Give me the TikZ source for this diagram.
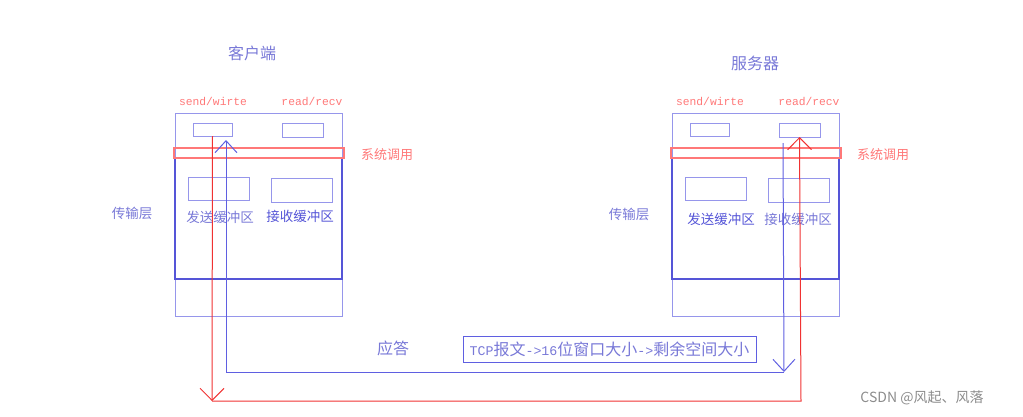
\documentclass[tikz,border=0pt]{standalone}
\usepackage{fontspec}
\usepackage{tikz}
\usetikzlibrary{arrows.meta,positioning}
\newfontfamily\cjk{Noto Sans CJK SC}
\newfontfamily\mono{Liberation Mono}

\definecolor{lblue}{RGB}{150,150,235}
\definecolor{dblue}{RGB}{85,85,215}
\definecolor{ablue}{RGB}{95,95,225}
\definecolor{tblue}{RGB}{120,120,215}
\definecolor{lred}{RGB}{255,120,120}
\definecolor{dred}{RGB}{240,50,50}

\tikzset{
  obox/.style={draw=lblue, line width=1pt, inner sep=0pt, outer sep=0pt},
  tbox/.style={draw=dblue, line width=1.2pt, inner sep=0pt, outer sep=0pt},
  band/.style={draw=lred, line width=1.3pt, inner sep=0pt, outer sep=0pt},
  title/.style={text=tblue, font=\cjk\fontsize{16}{18}\selectfont},
  lbl/.style={text=tblue, font=\cjk\fontsize{13.5}{15}\selectfont},
  call/.style={text=lred, font=\mono\fontsize{11.3}{13}\selectfont},
  sys/.style={text=lred, font=\cjk\fontsize{13}{15}\selectfont},
  barr/.style={draw=ablue, line width=1pt, -{Straight Barb[length=12pt,width=22pt]}},
  rarr/.style={draw=dred, line width=1pt, -{Straight Barb[length=12pt,width=24pt]}},
}

\begin{document}
\begin{tikzpicture}[x=1pt,y=-1pt]
\useasboundingbox (0,0) rectangle (1023,416);

% client side
\node[title] (ctitle) at (252,53) {客户端};
\node[obox, minimum width=167pt, minimum height=203pt] (cbox) at (258.5,214.5) {};
\node[tbox, minimum width=167pt, minimum height=121pt] (ctrans) at (258.5,218.5) {};
\node[band, minimum width=170pt, minimum height=10pt] (cband) at (259,153) {};
\node[obox, minimum width=39pt, minimum height=13pt] (csw) at (212.5,129.5) {};
\node[obox, minimum width=41pt, minimum height=14pt] (crr) at (302.5,130) {};
\node[obox, minimum width=61pt, minimum height=23pt] (csb) at (218.5,188.5) {};
\node[obox, minimum width=61pt, minimum height=24pt] (crb) at (301.5,190) {};
\node[call] (cswl) at (213,101) {send/wirte};
\node[call] (crrl) at (312,101) {read/recv};
\node[sys] (csys) at (387,155) {系统调用};
\node[lbl] (clayer) at (132,213) {传输层};
\node[lbl] (csbl) at (220,217) {发送缓冲区};
\node[lbl, text=dblue] (crbl) at (300,216) {接收缓冲区};

% server side
\node[title] (stitle) at (755,63) {服务器};
\node[obox, minimum width=167pt, minimum height=203pt] (sbox) at (755.5,214.5) {};
\node[tbox, minimum width=167pt, minimum height=121pt] (strans) at (755.5,218.5) {};
\node[band, minimum width=170pt, minimum height=10pt] (sband) at (756,153) {};
\node[obox, minimum width=39pt, minimum height=13pt] (ssw) at (709.5,129.5) {};
\node[obox, minimum width=41pt, minimum height=14pt] (srr) at (799.5,130) {};
\node[obox, minimum width=61pt, minimum height=23pt] (ssb) at (715.5,188.5) {};
\node[obox, minimum width=61pt, minimum height=24pt] (srb) at (798.5,190) {};
\node[call] (sswl) at (710,101) {send/wirte};
\node[call] (srrl) at (809,101) {read/recv};
\node[sys] (ssys) at (883,155) {系统调用};
\node[lbl] (slayer) at (629,214) {传输层};
\node[lbl, text=dblue] (ssbl) at (721,219) {发送缓冲区};
\node[lbl] (srbl) at (798,219) {接收缓冲区};

% reply with window size
\node[title] (ack) at (393,348) {应答};
\node[obox, draw=ablue, minimum width=293pt, minimum height=26pt,
      text=tblue, font=\cjk\fontsize{16}{18}\selectfont] (tcp) at (609.5,349)
  {{\mono\fontsize{13.3}{15}\selectfont TCP}报文{\mono\fontsize{13.3}{15}\selectfont ->16}位窗口大小{\mono\fontsize{13.3}{15}\selectfont ->}剩余空间大小};

% data: client send -> server recv
\coordinate (cdown) at (212,401);
\coordinate (sup) at (801,401);
\draw[rarr] (csw.south) -- (cdown);
\draw[rarr] (cdown) -- (sup) -- (srr.south);

% reply: server -> client
\coordinate (sstart) at (783,143);
\coordinate (sturn) at (784,372);
\coordinate (cturn) at (226,372);
\draw[barr] (sstart) -- (sturn);
\draw[barr] (sturn) -- (cturn) -- ([xshift=13.5pt,yshift=-4pt]csw.south);

\node[text=black!45, font=\cjk\fontsize{14}{16}\selectfont] (mark) at (922,398) {CSDN @风起、风落};
\end{tikzpicture}
\end{document}
